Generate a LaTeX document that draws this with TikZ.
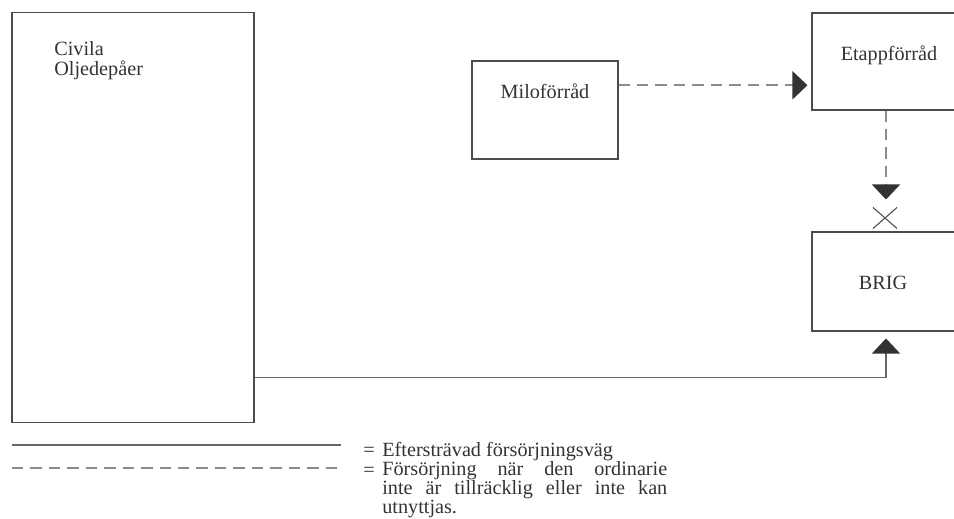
\documentclass[tikz,border=0pt]{standalone}
\usepackage{fontspec}
\setmainfont{Liberation Serif}
\usetikzlibrary{arrows.meta,calc}
\tikzset{
  box/.style={draw=black!70,line width=0.6pt,inner sep=0pt},
  lbl/.style={inner sep=0pt,text=black!80,font=\fontsize{11.5}{11.2}\selectfont},
  supply/.style={draw=black!60,line width=0.9pt},
  reserve/.style={supply,draw=black!45,dash pattern=on 6.5pt off 4pt},
  tip/.style={-{Triangle[length=0.3cm,width=0.56cm,color=black!80]}}
}
\begin{document}
\begin{tikzpicture}[x=0.02cm,y=-0.02cm]
\useasboundingbox (0,0) rectangle (954,518);
% boxes
\node[box,minimum width=4.84cm,minimum height=8.22cm] (civila) at (133,217.5) {};
\node[box,minimum width=2.92cm,minimum height=1.96cm] (milo) at (545,110) {};
\node[box,minimum width=2.96cm,minimum height=1.94cm] (etapp) at (886,61.5) {};
\node[box,minimum width=2.96cm,minimum height=1.98cm] (brig) at (886,281.5) {};
% box texts
\node[lbl,anchor=base west,align=left] (civtext) at (54,75) {Civila\\Oljedepåer};
\node[lbl,anchor=base] (milotext) at (545,98) {Miloförråd};
\node[lbl,anchor=base] (etapptext) at (889,60) {Etappförråd};
\node[lbl,anchor=base] (brigtext) at (883,289) {BRIG};
% connectors
\coordinate (m1) at ($(milo.north east)!0.25!(milo.south east)$);
\draw[reserve,tip,shorten >=0.08cm] (m1) -- (m1 -| etapp.west);
\draw[reserve,tip,shorten >=0.64cm] (etapp.south) -- (brig.north);
\draw[line width=0.6pt,black!70] ($(brig.north)+(-13,-3)$) -- ++(24,-21);
\draw[line width=0.6pt,black!70] ($(brig.north)+(-13,-24)$) -- ++(24,21);
\coordinate (c1) at ($(civila.north east)!0.888!(civila.south east)$);
\draw[supply,tip,shorten >=0.14cm] (c1) -| (brig.south);
% legend
\draw[supply] (12,445) -- (341,445);
\draw[reserve] (12,468) -- (343,468);
\node[lbl,anchor=base west] (eq1) at (363,456) {=};
\node[lbl,anchor=base west] (leg1) at (382,456) {Eftersträvad försörjningsväg};
\node[lbl,anchor=base west] (eq2) at (363,476) {=};
\node[lbl,anchor=base west,text width=5.7cm,align=justify,
  font=\fontsize{11.5}{11}\selectfont] (leg2) at (382,475)
  {Försörjning när den ordinarie\linebreak inte är tillräcklig eller inte kan\linebreak utnyttjas.};
\end{tikzpicture}
\end{document}
